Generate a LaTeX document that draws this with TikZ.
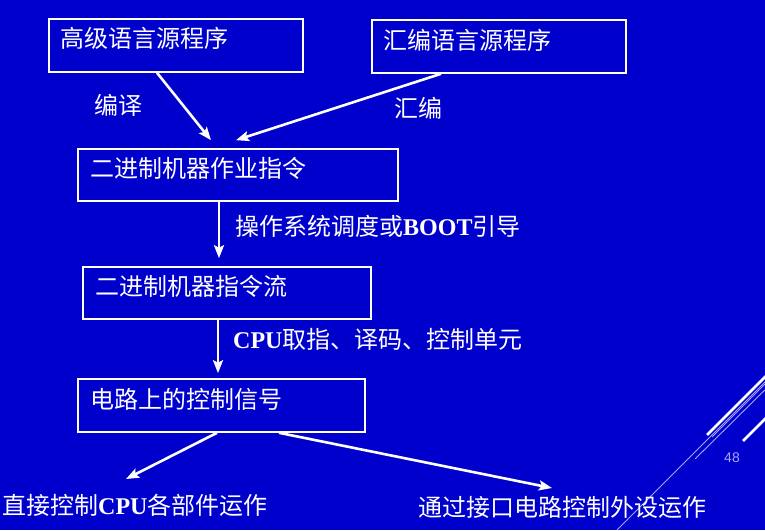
\documentclass[tikz,border=0pt]{standalone}
\usepackage{fontspec}
\setmainfont{Liberation Serif}
\setsansfont{Liberation Sans}
\newfontfamily\cjk{Noto Sans CJK SC}
\usetikzlibrary{arrows.meta,calc}
\definecolor{bgblue}{RGB}{0,0,204}
\definecolor{lav}{RGB}{165,165,255}
\newcommand\lt[1]{{\rmfamily\bfseries #1}}
\begin{document}
\begin{tikzpicture}[x=1pt,y=-1pt,
  box/.style n args={2}{draw=white,line width=1.6pt,inner sep=0pt,minimum width=#1pt,minimum height=#2pt},
  txt/.style={anchor=base west,inner sep=0pt,text=white,font=\cjk\fontsize{24pt}{28pt}\selectfont},
  arr/.style={draw=white,line width=2.6pt,-{Stealth[length=13pt,width=10pt,inset=2.5pt]}},
  deco/.style={draw=white,line width=2.6pt},
  decothin/.style={draw=lav,line width=0.9pt}]
\fill[bgblue] (0,0) rectangle (765,530);
\useasboundingbox (0,0) rectangle (765,530);
% decorative lines
\begin{scope}
\clip (0,0) rectangle (765,530);
\draw[decothin] (617,530) -- (775,372);
\draw[decothin] (695,459) -- (775,380);
\draw[decothin] (712,437) -- (775,374);
\draw[deco] (707,435) -- (775,367);
\draw[deco] (743,441) -- (775,409);
\end{scope}
\node[anchor=center,inner sep=0pt,text=lav,font=\sffamily\fontsize{14pt}{16pt}\selectfont] (pg) at (732,458) {48};
% boxes
\node[box={254}{53}] (b1) at (176,45.5) {};
\node[box={254}{53}] (b2) at (499,46.5) {};
\node[box={320}{52}] (b3) at (238,175) {};
\node[box={288}{52}] (b4) at (227,293) {};
\node[box={287}{53}] (b5) at (221.5,405.5) {};
% box texts
\node[txt] (t1) at (60,47) {高级语言源程序};
\node[txt] (t2) at (383,49) {汇编语言源程序};
\node[txt] (t3) at (90,177) {二进制机器作业指令};
\node[txt] (t4) at (95,295) {二进制机器指令流};
\node[txt] (t5) at (90,408) {电路上的控制信号};
% labels
\node[txt] (l1) at (94,114) {编译};
\node[txt] (l2) at (394,117) {汇编};
\node[txt] (l3) at (235,235) {操作系统调度或\lt{BOOT}引导};
\node[txt] (l4) at (233,348) {\lt{CPU}取指、译码、控制单元};
\node[txt] (o1) at (2,514) {直接控制\lt{CPU}各部件运作};
\node[txt] (o2) at (418,516) {通过接口电路控制外设运作};
% arrows
\coordinate (e1) at ([xshift=-27pt,yshift=8pt]b3.north);
\coordinate (e2) at ([xshift=-2pt,yshift=8pt]b3.north);
\coordinate (e3) at ([xshift=-8pt,yshift=8pt]b4.north);
\coordinate (e4) at ([xshift=-3.5pt,yshift=5pt]b5.north);
\coordinate (e5) at (126,479);
\coordinate (e6) at (552,488);
\draw[arr] ([xshift=-19pt]b1.south) -- (e1);
\draw[arr] ([xshift=-58pt]b2.south) -- (e2);
\draw[arr] ([xshift=-19pt]b3.south) -- (e3);
\draw[arr] ([xshift=-9pt]b4.south) -- (e4);
\draw[arr] ([xshift=-4.5pt]b5.south) -- (e5);
\draw[arr] ([xshift=57.5pt]b5.south) -- (e6);
\end{tikzpicture}
\end{document}
